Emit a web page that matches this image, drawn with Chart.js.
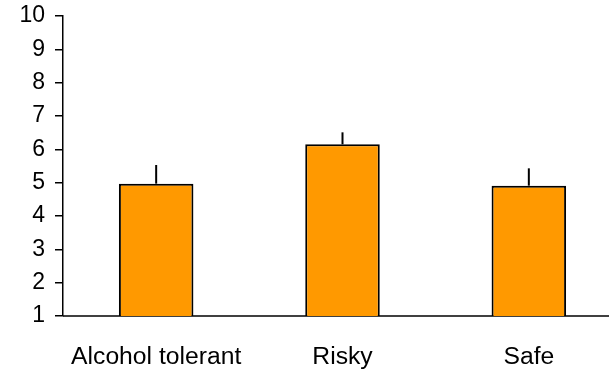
<!DOCTYPE html>
<html>
<head>
<meta charset="utf-8">
<script src="https://cdn.jsdelivr.net/npm/chart.js@4/dist/chart.umd.min.js"></script>
<style>
  html, body { margin: 0; padding: 0; background: #fff; }
  #wrap { width: 616px; height: 369px; overflow: hidden; position: relative; }
  #box { width: 630px; height: 369px; }
</style>
</head>
<body>
<div id="wrap"><div id="box"><canvas id="c"></canvas></div></div>
<script>
// Group labels, mean scores and upper error lengths
const categories = ['Alcohol tolerant', 'Risky', 'Safe'];
const means = [4.97, 6.15, 4.91];
const errors = [0.56, 0.36, 0.52];
const yTicks = [1, 2, 3, 4, 5, 6, 7, 8, 9, 10];

const FONT = '"Liberation Sans", Arial, sans-serif';

// One-sided error whiskers (upward only, no caps) plus the category baseline
const whiskers = {
  id: 'whiskers',
  afterDatasetsDraw(chart) {
    const ctx = chart.ctx;
    const meta = chart.getDatasetMeta(0);
    const y = chart.scales.y;
    ctx.save();
    ctx.strokeStyle = '#000';
    ctx.lineWidth = 2;
    meta.data.forEach((bar, i) => {
      const top = y.getPixelForValue(means[i] + errors[i]);
      ctx.beginPath();
      ctx.moveTo(bar.x, bar.y);
      ctx.lineTo(bar.x, top);
      ctx.stroke();
    });
    ctx.restore();
  },
  beforeDatasetsDraw(chart) {
    const ctx = chart.ctx;
    const a = chart.chartArea;
    ctx.save();
    ctx.strokeStyle = '#000';
    ctx.lineWidth = 1.5;
    ctx.beginPath();
    ctx.moveTo(a.left, a.bottom);
    ctx.lineTo(a.right - 13, a.bottom);
    ctx.stroke();
    ctx.restore();
  }
};

new Chart(document.getElementById('c'), {
  type: 'bar',
  data: {
    labels: categories,
    datasets: [{
      data: means,
      backgroundColor: '#FF9900',
      borderColor: '#000',
      borderWidth: 2,
      borderSkipped: false,
      categoryPercentage: 1,
      barPercentage: 0.4
    }]
  },
  options: {
    responsive: true,
    maintainAspectRatio: false,
    animation: false,
    devicePixelRatio: 1,
    layout: { padding: { top: 16, right: 8, left: 0, bottom: 0 } },
    plugins: { legend: { display: false }, tooltip: { enabled: false } },
    scales: {
      x: {
        grid: { display: false, drawTicks: false },
        border: { display: false },
        ticks: { color: '#000', font: { family: FONT, size: 24.7 }, padding: 26 },
        afterFit(s) { s.height = 53; s.paddingLeft = 0; s.paddingRight = 0; }
      },
      y: {
        min: 1,
        max: 10,
        afterBuildTicks(s) { s.ticks = yTicks.map(v => ({ value: v })); },
        grid: { display: true, drawOnChartArea: false, drawTicks: true, tickLength: 8, color: '#000', lineWidth: 1.5 },
        border: { display: true, color: '#000', width: 1.5 },
        ticks: { color: '#000', font: { family: FONT, size: 23 }, padding: 10 },
        afterFit(s) { s.width = 63; s.paddingTop = 0; s.paddingBottom = 0; }
      }
    }
  },
  plugins: [whiskers]
});
</script>
</body>
</html>
